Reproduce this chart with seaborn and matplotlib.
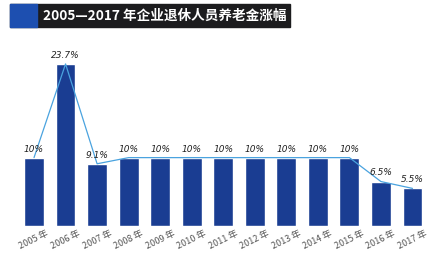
import matplotlib.pyplot as plt
import pandas as pd
import seaborn as sns
from matplotlib.patches import Rectangle

years = ["2005 年", "2006 年", "2007 年", "2008 年", "2009 年", "2010 年", "2011 年",
         "2012 年", "2013 年", "2014 年", "2015 年", "2016 年", "2017 年"]
rates = [10, 23.7, 9.1, 10, 10, 10, 10, 10, 10, 10, 10, 6.5, 5.5]
labels = ["10%", "23.7%", "9.1%", "10%", "10%", "10%", "10%",
          "10%", "10%", "10%", "10%", "6.5%", "5.5%"]
title = "2005—2017 年企业退休人员养老金涨幅"

sns.set_theme(style="white")
plt.rcParams['font.family'] = ['Noto Sans CJK SC', 'DejaVu Sans']

df = pd.DataFrame({"year": years, "rate": rates})
W, H = 439, 262
fig = plt.figure(figsize=(W / 100, H / 100), dpi=100)
ax = fig.add_axes([18.25 / W, 36 / H, 410 / W, 186 / H])

sns.barplot(ax=ax, data=df, x="year", y="rate", color="#1a3d92", width=0.63,
            saturation=1, zorder=1)
ax.plot(range(len(rates)), rates, color="#4aa3df", linewidth=0.9, zorder=2)

# italic value labels (CJK font has no italic, so use DejaVu Sans)
for i, (v, lab) in enumerate(zip(rates, labels)):
    ax.text(i, v + 0.6, lab, ha="center", va="bottom", fontsize=6.5,
            style="italic", color="#222222", family=["DejaVu Sans"], zorder=3)

ax.set_xlim(-0.5, len(years) - 0.5)
ax.set_ylim(0, 27.2)
ax.set_yticks([])
ax.set_xlabel(None)
ax.set_ylabel(None)
ax.tick_params(axis="x", length=0, pad=2)
for t in ax.get_xticklabels():
    t.set_rotation(26)
    t.set_ha("center")
    t.set_fontsize(6.5)
    t.set_color("#555555")
sns.despine(ax=ax, left=True, bottom=True)

# title bar
fig.patches.append(Rectangle((10 / W, 1 - 27 / H), 280 / W, 23 / H,
                             transform=fig.transFigure, color="#1c1c1e", zorder=0))
fig.patches.append(Rectangle((10 / W, 1 - 27 / H), 27 / W, 23 / H,
                             transform=fig.transFigure, color="#1d4fb0", zorder=1))
fig.text(43 / W, 1 - 15.5 / H, title, color="white", fontsize=9.8,
         fontweight="bold", va="center", ha="left")

fig.savefig("out.png", dpi=100)
